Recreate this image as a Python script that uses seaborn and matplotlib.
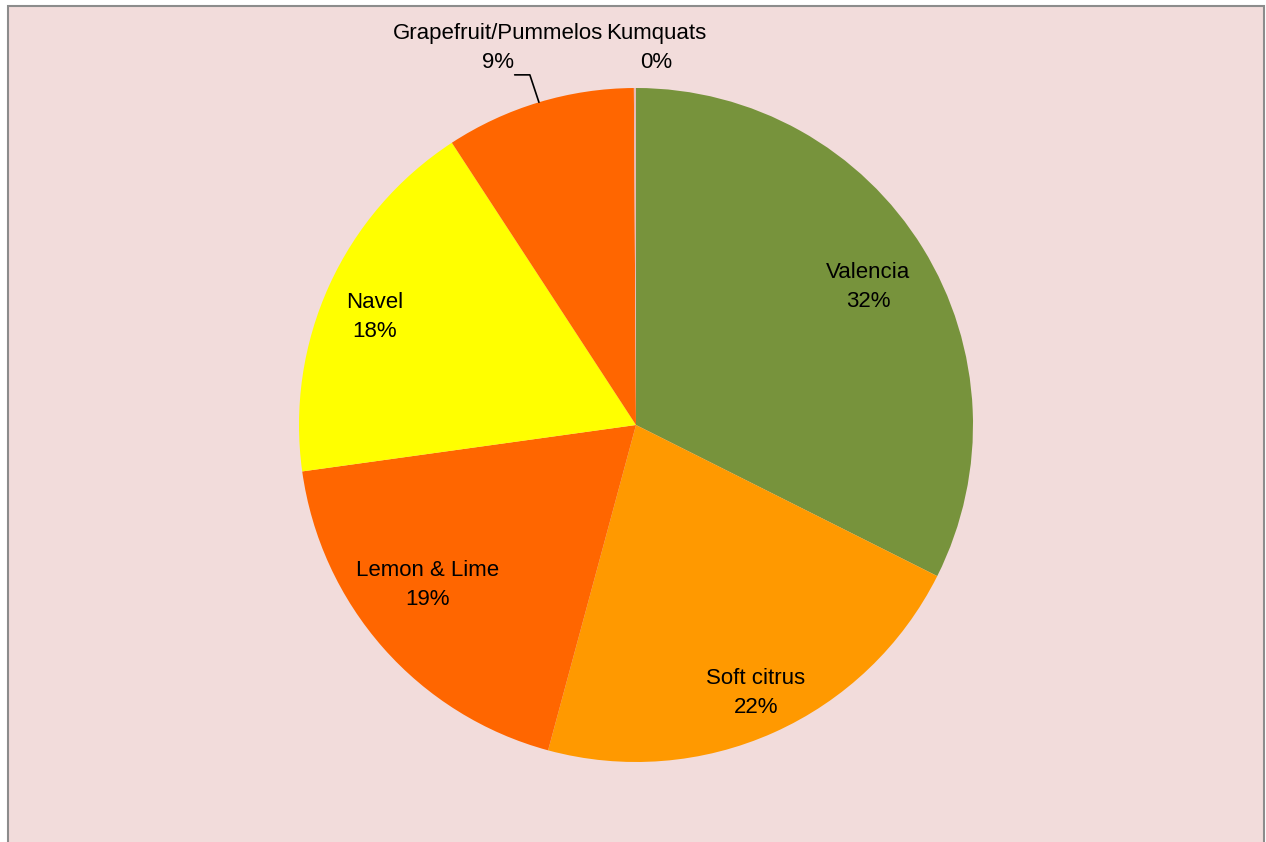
import numpy as np
import seaborn as sns
import matplotlib.pyplot as plt
from matplotlib import font_manager
from matplotlib.patches import Rectangle

# export split by citrus group (share of total)
groups = ['Valencia', 'Soft citrus', 'Lemon & Lime', 'Navel', 'Grapefruit/Pummelos', 'Kumquats']
shares = [32.4, 21.8, 18.6, 18.0, 9.1, 0.1]
colours = ['#77933C', '#FF9900', '#FF6600', '#FFFF00', '#FF6600', '#E6B9B8']

sns.set_style('white')
names = {f.name for f in font_manager.fontManager.ttflist}
if 'Liberation Sans Narrow' in names:
    fam, fs = 'Liberation Sans Narrow', 18
else:
    fam, fs = 'Liberation Sans', 16
plt.rcParams['font.family'] = [fam, 'DejaVu Sans']
plt.rcParams['text.color'] = 'black'

fig = plt.figure(figsize=(12.66, 8.42), dpi=100)
fig.patch.set_facecolor('white')

# chart area frame
fig.patches.append(Rectangle((8 / 1266, -0.01), 1256 / 1266, (836 / 842) + 0.01,
                             transform=fig.transFigure, facecolor='#F2DCDB',
                             edgecolor='#8C8C8C', linewidth=1.5, zorder=-5))

ax = fig.add_axes([299 / 1266, 80 / 842, 674 / 1266, 674 / 842])
ax.set_facecolor('none')
wedges, _ = ax.pie(shares, colors=colours, startangle=90, counterclock=False,
                   radius=1, wedgeprops=dict(linewidth=0))
ax.set_xlim(-1, 1)
ax.set_ylim(-1, 1)
ax.set_aspect('equal')
ax.axis('off')

total = sum(shares)
pcts = ['%d%%' % round(v / total * 100) for v in shares]
# label distance from centre and small angular nudge (deg) per inside label
inner_dist = [0.80, 0.87, 0.78, 0.84]
nudge = [-1, 0, -4, 2]
ls = 1.5

for i, w in enumerate(wedges[:4]):
    ang = np.deg2rad((w.theta1 + w.theta2) / 2 + nudge[i])
    d = inner_dist[i]
    ax.text(d * np.cos(ang), d * np.sin(ang), groups[i] + '\n' + pcts[i],
            ha='center', va='center', fontsize=fs, linespacing=ls, color='black')

# small slices labelled outside
ax.text(-0.41, 1.119, groups[4] + '\n' + pcts[4], ha='center', va='center',
        fontsize=fs, linespacing=ls, color='black', clip_on=False)
ax.text(0.059, 1.119, groups[5] + '\n' + pcts[5], ha='center', va='center',
        fontsize=fs, linespacing=ls, color='black', clip_on=False)

g = wedges[4]
ang = np.deg2rad((g.theta1 + g.theta2) / 2)
x0, y0 = np.cos(ang), np.sin(ang)
ax.plot([x0, -0.315, -0.36], [y0, 1.039, 1.039], color='black', lw=1.2, clip_on=False)

fig.savefig('out.png', dpi=100)
